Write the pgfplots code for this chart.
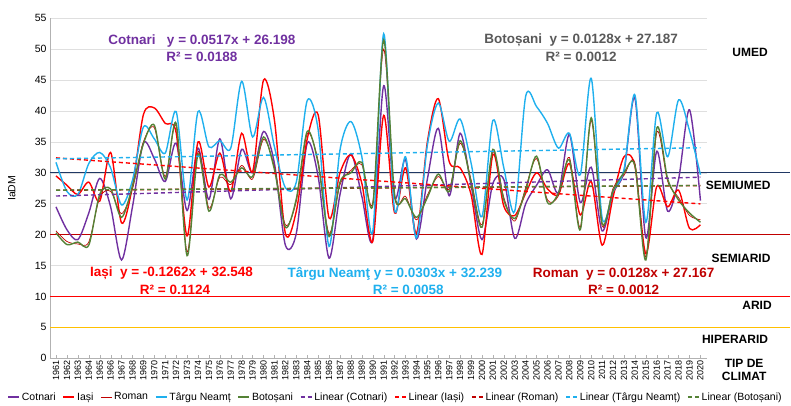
\documentclass[border=0pt]{standalone}
\usepackage{pgfplots}
\usepackage{pgfplotstable}
\pgfplotsset{compat=1.18}
\usepackage{fontspec}
\setmainfont{Liberation Sans}
\definecolor{cCot}{HTML}{7030A0}
\definecolor{cIas}{HTML}{FF0000}
\definecolor{cRom}{HTML}{C00000}
\definecolor{cTN}{HTML}{1FB0EE}
\definecolor{cBot}{HTML}{548235}
\definecolor{cNavy}{HTML}{203864}
\definecolor{cYel}{HTML}{FFC000}
\definecolor{cGrayT}{HTML}{595959}

\pgfplotstableread{
year cot ias rom tn bot
1961 24.5 29.5 20.6 31.7 20.3
1962 20.8 28.0 18.9 27.0 18.4
1963 19.2 26.5 18.5 26.5 18.8
1964 23.5 28.5 18.8 31.5 18.3
1965 29.1 25.4 26.0 33.3 26.5
1966 24.5 33.3 27.0 30.8 27.4
1967 15.9 21.9 23.4 24.8 22.8
1968 24.5 27.8 27.4 28.8 27.8
1969 34.8 39.4 35.0 37.4 34.7
1970 32.3 40.5 37.3 35.5 37.7
1971 28.6 38.0 29.4 33.2 29.0
1972 34.8 36.5 37.6 39.9 38.0
1973 23.9 19.8 17.2 25.6 16.6
1974 34.0 35.0 33.4 39.9 33.0
1975 25.7 27.7 24.3 34.2 23.8
1976 35.5 33.2 29.3 35.2 29.7
1977 25.8 27.0 28.1 34.0 28.5
1978 33.8 36.4 31.2 44.8 30.8
1979 30.0 30.2 29.0 35.8 29.4
1980 36.7 45.0 35.4 42.2 35.8
1981 31.5 38.5 30.9 34.2 30.5
1982 18.3 20.2 21.6 27.6 21.2
1983 20.2 23.8 25.4 28.5 25.8
1984 34.8 35.5 36.3 41.7 36.7
1985 29.4 39.4 31.9 37.0 31.5
1986 16.2 22.7 20.2 18.1 19.7
1987 26.5 30.0 28.1 33.7 28.5
1988 33.1 32.9 30.4 38.3 30.0
1989 26.2 28.3 31.3 32.6 31.7
1990 19.2 18.9 25.2 20.5 24.8
1991 44.1 39.3 50.0 52.5 51.5
1992 26.0 23.5 26.1 24.0 26.5
1993 32.1 30.8 26.2 32.6 25.8
1994 19.3 20.2 22.4 19.5 22.8
1995 29.0 35.0 26.4 34.5 26.0
1996 37.2 42.0 29.4 41.3 29.8
1997 26.3 31.8 27.4 35.1 27.0
1998 36.4 30.8 34.8 38.7 35.2
1999 28.0 26.5 28.9 31.6 28.5
2000 19.2 16.8 21.6 22.9 21.2
2001 28.3 33.0 33.4 38.5 33.8
2002 28.9 24.6 26.0 30.8 25.6
2003 19.4 23.1 22.2 23.8 22.6
2004 25.0 26.7 27.6 42.4 27.2
2005 28.0 30.0 32.3 40.7 32.7
2006 30.5 27.4 25.6 38.0 25.2
2007 26.8 26.5 26.3 34.0 26.7
2008 36.2 31.5 32.5 36.4 32.1
2009 25.2 23.2 21.2 29.7 20.8
2010 30.9 28.6 38.5 45.3 38.9
2011 20.6 18.3 21.4 22.7 21.8
2012 26.7 26.1 27.5 27.0 27.1
2013 30.2 32.6 29.6 30.5 30.0
2014 42.1 31.1 31.6 42.6 31.2
2015 19.5 16.9 16.4 22.0 15.9
2016 33.5 27.8 36.5 39.7 37.2
2017 23.8 24.5 28.6 32.6 29.0
2018 29.0 27.2 26.0 41.8 25.6
2019 40.2 21.0 23.1 36.8 23.5
2020 25.5 21.6 22.4 29.7 22.0
}\datatable

\begin{document}
\begin{tikzpicture}
\begin{axis}[
  name=ax,
  scale only axis, width=657pt, height=340pt,
  xmin=1960.45, xmax=2020.6, ymin=0, ymax=55,
  clip=false,
  axis lines*=left,
  axis line style={draw=gray!60, -},
  ytick={0,5,...,55},
  xtick={1961,1962,...,2020},
  ymajorgrids,
  grid style={draw=gray!25, line width=0.6pt},
  xtick style={draw=gray!60},
  ytick style={draw=none},
  major tick length=3pt,
  /pgf/number format/assume math mode=true,
  /pgf/number format/1000 sep={},
  xticklabel={\pgfmathprintnumber[fixed,precision=0,1000 sep={},assume math mode=true]{\tick}},
  xticklabel style={rotate=90, anchor=east, font=\fontsize{9}{10}\selectfont, inner sep=1.5pt},
  yticklabel style={font=\fontsize{10.5}{12}\selectfont},
  ylabel={IaDM},
  ylabel style={at={(axis description cs:-0.058,0.5)}, anchor=center, font=\fontsize{10.5}{12}\selectfont},
  legend style={at={(0.526,-0.114)}, anchor=center, draw=none, legend columns=10,
    font=\fontsize{10.5}{12}\selectfont, inner sep=0pt,
    /tikz/every even column/.append style={column sep=5pt}},
  legend image code/.code={\draw[#1] (0pt,0pt) -- (11pt,0pt);},
]
% climate class boundaries
\addplot[forget plot, cYel, line width=1.3pt] coordinates {(1960.45,5) (2028.2,5)};
\addplot[forget plot, cIas, line width=1.3pt] coordinates {(1960.45,10) (2028.2,10)};
\addplot[forget plot, cRom, line width=1.3pt] coordinates {(1960.45,20) (2028.2,20)};
\addplot[forget plot, cNavy, line width=1.3pt] coordinates {(1960.45,30) (2028.2,30)};

% data series
\addplot[cCot, line width=1.4pt, smooth, tension=0.5] table[x=year,y=cot]{\datatable};
\addlegendentry{Cotnari}
\addplot[cIas, line width=1.4pt, smooth, tension=0.5] table[x=year,y=ias]{\datatable};
\addlegendentry{Iași}
\addplot[cRom, line width=0.7pt, smooth, tension=0.5] table[x=year,y=rom]{\datatable};
\addlegendentry{Roman}
\addplot[cTN, line width=1.4pt, smooth, tension=0.5] table[x=year,y=tn]{\datatable};
\addlegendentry{Târgu Neamț}
\addplot[cBot, line width=1.4pt, smooth, tension=0.5] table[x=year,y=bot]{\datatable};
\addlegendentry{Botoșani}

% linear trends (from the equations shown)
\addplot[cCot, line width=1.4pt, dash pattern=on 4pt off 3pt] coordinates {(1961,26.25) (2020,29.30)};
\addlegendentry{Linear (Cotnari)}
\addplot[cIas, line width=1.4pt, dash pattern=on 4pt off 3pt] coordinates {(1961,32.42) (2020,24.98)};
\addlegendentry{Linear (Iași)}
\addplot[cRom, line width=1.4pt, dash pattern=on 4pt off 3pt] coordinates {(1961,27.18) (2020,27.94)};
\addlegendentry{Linear (Roman)}
\addplot[cTN, line width=1.4pt, dash pattern=on 4pt off 3pt] coordinates {(1961,32.27) (2020,34.06)};
\addlegendentry{Linear (Târgu Neamț)}
\addplot[cBot, line width=1.4pt, dash pattern=on 4pt off 3pt] coordinates {(1961,27.20) (2020,27.96)};
\addlegendentry{Linear (Botoșani)}

% equations
\node[cCot, font=\fontsize{13.5}{14}\selectfont\bfseries] at (axis cs:1974.36,51.4) {Cotnari\ \ \ y = 0.0517x + 26.198};
\node[cCot, font=\fontsize{13.5}{14}\selectfont\bfseries] at (axis cs:1974.36,48.7) {R² = 0.0188};
\node[cGrayT, font=\fontsize{13.5}{14}\selectfont\bfseries] at (axis cs:2009.08,51.4) {Botoșani\ \ y = 0.0128x + 27.187};
\node[cGrayT, font=\fontsize{13.5}{14}\selectfont\bfseries] at (axis cs:2009.08,48.8) {R² = 0.0012};
\node[cIas, font=\fontsize{13.5}{14}\selectfont\bfseries] at (axis cs:1971.57,13.8) {Iași\ \ y = -0.1262x + 32.548};
\node[cIas, font=\fontsize{13.5}{14}\selectfont\bfseries] at (axis cs:1971.9,11.1) {R² = 0.1124};
\node[cTN, font=\fontsize{13.5}{14}\selectfont\bfseries] at (axis cs:1992.02,13.6) {Târgu Neamţ y = 0.0303x + 32.239};
\node[cTN, font=\fontsize{13.5}{14}\selectfont\bfseries] at (axis cs:1993.25,11.05) {R² = 0.0058};
\node[cRom, font=\fontsize{13.5}{14}\selectfont\bfseries] at (axis cs:2012.97,13.6) {Roman\ \ y = 0.0128x + 27.167};
\node[cRom, font=\fontsize{13.5}{14}\selectfont\bfseries] at (axis cs:2012.97,11.05) {R² = 0.0012};

% climate type labels
\node[font=\fontsize{12}{13}\selectfont\bfseries] at (axis cs:2024.54,49.5) {UMED};
\node[font=\fontsize{12}{13}\selectfont\bfseries] at (axis cs:2023.45,28.0) {SEMIUMED};
\node[font=\fontsize{12}{13}\selectfont\bfseries] at (axis cs:2023.72,16.2) {SEMIARID};
\node[font=\fontsize{12}{13}\selectfont\bfseries] at (axis cs:2025.18,8.5) {ARID};
\node[font=\fontsize{12}{13}\selectfont\bfseries] at (axis cs:2023.17,3.0) {HIPERARID};
\node[font=\fontsize{12}{13}\selectfont\bfseries, align=center, inner sep=0pt] at (axis cs:2024.0,-1.9) {TIP DE\\CLIMAT};
\end{axis}
\pgfresetboundingbox
\path[use as bounding box] ([shift={(-50pt,-47.7pt)}]ax.south west) rectangle ([shift={(84pt,18.3pt)}]ax.north east);
\end{tikzpicture}
\end{document}
